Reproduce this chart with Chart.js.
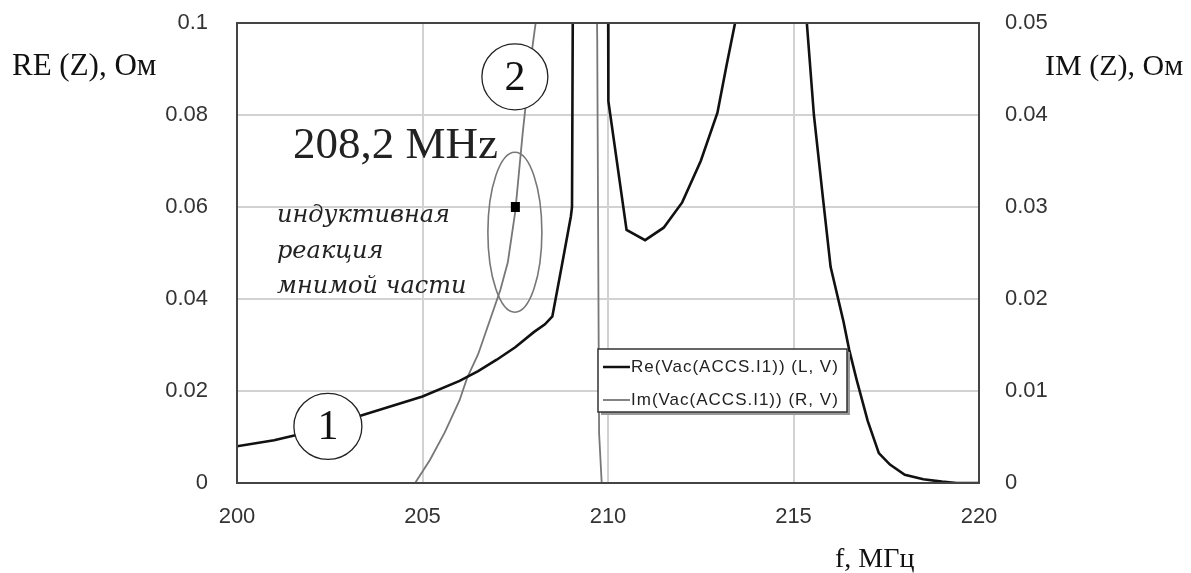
<!DOCTYPE html>
<html>
<head>
<meta charset="utf-8">
<script src="https://cdn.jsdelivr.net/npm/chart.js@4.4.1/dist/chart.umd.min.js"></script>
<style>
  html, body { margin: 0; padding: 0; background: #fff; }
  #wrap { width: 1191px; height: 573px; }
</style>
</head>
<body>
<div id="wrap"><canvas id="zChart" width="1191" height="573"></canvas></div>
<script>
// Re(Z), left axis (Ом). null = curve leaves the plot (pole)
var reFreq = [200, 201, 202, 203, 204, 205, 206, 206.5, 207, 207.5, 208, 208.3, 208.5, 208.75, 209.0, 209.03, 209.06,
  209.5, 210.0, 210.01, 210.5, 211.0, 211.5, 212.0, 212.5, 212.95, 213.2, 213.45,
  214.4, 215.35, 215.55, 215.8, 216.0, 216.35, 216.5, 216.7, 217.0, 217.3, 217.6, 218.0, 218.5, 219.0, 219.4, 220];
var reVals = [0.008, 0.0093, 0.0112, 0.0138, 0.0163, 0.0188, 0.0222, 0.0243, 0.0268, 0.0295, 0.0328, 0.0345, 0.0362, 0.047, 0.058, 0.06, 0.12,
  null, 0.12, 0.083, 0.055, 0.0528, 0.0555, 0.061, 0.07, 0.0805, 0.091, 0.101,
  null, 0.101, 0.08, 0.0615, 0.047, 0.035, 0.029, 0.0225, 0.0135, 0.0065, 0.004, 0.0018, 0.0008, 0.0003, 0, 0];

// Im(Z), right axis (Ом)
var imFreq = [204.8, 205.2, 205.6, 206.0, 206.2, 206.5, 206.8, 207.1, 207.3, 207.5, 207.7, 207.9, 208.05, 208.2,
  209.0, 209.69, 209.71, 209.76, 209.83, 209.9];
var imVals = [0, 0.0025, 0.0055, 0.009, 0.0114, 0.014, 0.0175, 0.021, 0.024, 0.0295, 0.038, 0.0455, 0.05, 0.056,
  null, 0.056, 0.048, 0.0054, 0, -0.01];

var xTicks = ['200', '205', '210', '215', '220'];
var reTicks = ['0', '0.02', '0.04', '0.06', '0.08', '0.1'];
var imTicks = ['0', '0.01', '0.02', '0.03', '0.04', '0.05'];

function pts(xs, ys) {
  return xs.map(function (f, i) { return { x: f, y: ys[i] }; });
}

function noPad(s) {
  s.paddingTop = 0; s.paddingBottom = 0; s.paddingLeft = 0; s.paddingRight = 0;
}

// titles, legend box and the hand-drawn marks on top of the plot
var overlay = {
  id: 'overlay',
  afterDatasetsDraw: function (chart) {
    var ctx = chart.ctx, a = chart.chartArea;
    var x = chart.scales.x, y = chart.scales.y;
    ctx.save();

    // frame
    ctx.strokeStyle = '#444';
    ctx.lineWidth = 2;
    ctx.strokeRect(a.left, a.top, a.right - a.left, a.bottom - a.top);

    // ellipse around the point + the point itself
    var ex = x.getPixelForValue(207.49), ey = y.getPixelForValue(0.0545);
    ctx.strokeStyle = '#777';
    ctx.lineWidth = 1.6;
    ctx.beginPath();
    ctx.ellipse(ex, ey, 27, 80, 0, 0, Math.PI * 2);
    ctx.stroke();
    var px = x.getPixelForValue(207.49), py = y.getPixelForValue(0.06);
    ctx.fillStyle = '#000';
    ctx.fillRect(px - 4, py - 5, 9, 10);

    // numbered circles
    [[207.49, 0.0883, 33, 33, '2'], [202.45, 0.0123, 34, 33, '1']].forEach(function (c) {
      var cx = x.getPixelForValue(c[0]), cy = y.getPixelForValue(c[1]);
      ctx.beginPath();
      ctx.ellipse(cx, cy, c[2], c[3], 0, 0, Math.PI * 2);
      ctx.fillStyle = '#fff';
      ctx.fill();
      ctx.strokeStyle = '#222';
      ctx.lineWidth = 1.3;
      ctx.stroke();
      ctx.fillStyle = '#111';
      ctx.font = '42px "Liberation Serif"';
      ctx.textAlign = 'center';
      ctx.textBaseline = 'middle';
      ctx.fillText(c[4], cx, cy + 2);
    });

    ctx.textAlign = 'left';
    ctx.textBaseline = 'alphabetic';
    ctx.fillStyle = '#222';
    ctx.font = '45px "Liberation Serif"';
    ctx.fillText('208,2 MHz', 293, 158);

    ctx.font = 'italic 24px "DejaVu Serif"';
    ctx.fillText('индуктивная', 277, 222);
    ctx.fillText('реакция', 277, 258);
    ctx.fillText('мнимой части', 277, 293);

    // legend
    var lx = 598, ly = 349, lw = 249, lh = 63;
    ctx.fillStyle = '#999';
    ctx.fillRect(lx + 3, ly + 3, lw, lh);
    ctx.fillStyle = '#fff';
    ctx.fillRect(lx, ly, lw, lh);
    ctx.strokeStyle = '#333';
    ctx.lineWidth = 1.5;
    ctx.strokeRect(lx, ly, lw, lh);
    ctx.font = '17px "Liberation Sans"';
    ctx.letterSpacing = '1px';
    ctx.textBaseline = 'middle';
    [['Re(Vac(ACCS.I1)) (L, V)', '#111', 2.5, 367], ['Im(Vac(ACCS.I1)) (R, V)', '#777', 1.8, 400]].forEach(function (r) {
      ctx.strokeStyle = r[1];
      ctx.lineWidth = r[2];
      ctx.beginPath();
      ctx.moveTo(603, r[3]);
      ctx.lineTo(630, r[3]);
      ctx.stroke();
      ctx.fillStyle = '#222';
      ctx.fillText(r[0], 631, r[3], 212);
    });
    ctx.letterSpacing = '0px';

    // axis titles
    ctx.textBaseline = 'alphabetic';
    ctx.fillStyle = '#111';
    ctx.font = '31px "Liberation Serif"';
    ctx.fillText('RE (Z), Ом', 12, 75);
    ctx.font = '30px "Liberation Serif"';
    ctx.fillText('IM (Z), Ом', 1045, 75);
    ctx.font = '28px "Liberation Serif"';
    ctx.fillText('f, МГц', 835, 567);
    ctx.restore();
  }
};

var tickFont = { family: 'Liberation Sans', size: 22 };

new Chart(document.getElementById('zChart'), {
  type: 'line',
  data: {
    datasets: [
      { label: 'Re', data: pts(reFreq, reVals), yAxisID: 'y', borderColor: '#111', borderWidth: 2.6,
        pointRadius: 0, tension: 0, spanGaps: false },
      { label: 'Im', data: pts(imFreq, imVals), yAxisID: 'y1', borderColor: '#777', borderWidth: 1.8,
        pointRadius: 0, tension: 0, spanGaps: false }
    ]
  },
  options: {
    responsive: false,
    animation: false,
    devicePixelRatio: 1,
    layout: { padding: { top: 23, left: 0, right: 0, bottom: 0 } },
    plugins: { legend: { display: false }, tooltip: { enabled: false } },
    scales: {
      x: {
        type: 'linear', min: 200, max: 220,
        border: { display: false },
        grid: { color: '#d2d2d2', lineWidth: 2, drawTicks: false },
        ticks: { stepSize: 5, padding: 21, color: '#333', font: tickFont,
          callback: function (v) { return xTicks[Math.round((v - 200) / 5)]; } },
        afterFit: function (s) { s.height = 90; noPad(s); }
      },
      y: {
        position: 'left', min: 0, max: 0.1,
        border: { display: false },
        grid: { color: '#d2d2d2', lineWidth: 2, drawTicks: false },
        ticks: { stepSize: 0.02, padding: 29, color: '#333', font: tickFont,
          callback: function (v) { return reTicks[Math.round(v / 0.02)]; } },
        afterFit: function (s) { s.width = 237; noPad(s); }
      },
      y1: {
        position: 'right', min: 0, max: 0.05,
        border: { display: false },
        grid: { display: false, drawTicks: false },
        ticks: { stepSize: 0.01, padding: 26, color: '#333', font: tickFont,
          callback: function (v) { return imTicks[Math.round(v / 0.01)]; } },
        afterFit: function (s) { s.width = 212; noPad(s); }
      }
    }
  },
  plugins: [overlay]
});
</script>
</body>
</html>
